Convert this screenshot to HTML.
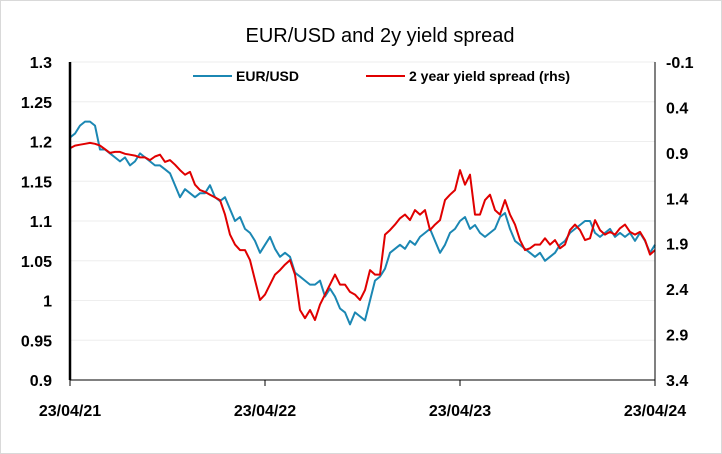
<!DOCTYPE html>
<html><head><meta charset="utf-8"><style>
body{margin:0;background:#fff}
svg{display:block;font-family:"Liberation Sans",sans-serif}
</style></head><body>
<svg id="chart" width="722" height="454" viewBox="0 0 722 454" xmlns="http://www.w3.org/2000/svg">
<rect x="0.5" y="0.5" width="721" height="453" fill="#fff" stroke="#d9d9d9"/>
<text x="380" y="42" text-anchor="middle" font-size="20" fill="#000">EUR/USD and 2y yield spread</text>
<g id="grid"></g>
<g id="series"></g>
<g id="axes"></g>
<g>
<line x1="193" y1="76" x2="232" y2="76" stroke="#1b87b3" stroke-width="2"/>
<text x="236" y="81" font-size="14" font-weight="bold">EUR/USD</text>
<line x1="366" y1="76" x2="405" y2="76" stroke="#e00000" stroke-width="2"/>
<text x="409" y="81" font-size="14" font-weight="bold">2 year yield spread (rhs)</text>
</g>
</svg>
<script>
const leftTicks=[1.3,1.25,1.2,1.15,1.1,1.05,1,0.95,0.9];
const rightTicks=[-0.1,0.4,0.9,1.4,1.9,2.4,2.9,3.4];
const xTickLabels=["23/04/21","23/04/22","23/04/23","23/04/24"];
const xTickYears=[0,1,2,3];
const eurusd=[1.205,1.21,1.22,1.225,1.225,1.22,1.19,1.19,1.185,1.18,1.175,1.18,1.17,1.175,1.185,1.18,1.175,1.17,1.17,1.165,1.16,1.145,1.13,1.14,1.135,1.13,1.135,1.135,1.145,1.13,1.125,1.13,1.115,1.1,1.105,1.09,1.085,1.075,1.06,1.07,1.08,1.065,1.055,1.06,1.055,1.035,1.03,1.025,1.02,1.02,1.025,1.005,1.015,1.005,0.99,0.985,0.97,0.985,0.98,0.975,1.0,1.025,1.03,1.04,1.06,1.065,1.07,1.065,1.075,1.07,1.08,1.085,1.09,1.075,1.06,1.07,1.085,1.09,1.1,1.105,1.09,1.095,1.085,1.08,1.085,1.09,1.105,1.11,1.09,1.075,1.07,1.065,1.06,1.055,1.06,1.05,1.055,1.06,1.07,1.075,1.085,1.09,1.095,1.1,1.1,1.085,1.08,1.085,1.09,1.08,1.085,1.08,1.085,1.075,1.085,1.075,1.06,1.07];
const spread=[0.85,0.82,0.81,0.80,0.79,0.80,0.82,0.86,0.90,0.89,0.89,0.91,0.92,0.93,0.95,0.95,0.98,0.94,0.92,1.00,0.98,1.03,1.09,1.14,1.11,1.25,1.31,1.33,1.36,1.39,1.42,1.58,1.80,1.91,1.97,1.97,2.08,2.30,2.52,2.46,2.35,2.24,2.19,2.13,2.08,2.24,2.63,2.72,2.63,2.74,2.57,2.46,2.35,2.24,2.35,2.35,2.43,2.46,2.52,2.41,2.19,2.24,2.24,1.80,1.75,1.69,1.62,1.58,1.64,1.53,1.58,1.53,1.75,1.69,1.64,1.42,1.36,1.31,1.09,1.25,1.14,1.58,1.58,1.42,1.36,1.53,1.58,1.42,1.58,1.69,1.86,1.97,1.95,1.91,1.91,1.84,1.91,1.86,1.95,1.91,1.75,1.69,1.75,1.86,1.84,1.64,1.75,1.80,1.77,1.80,1.73,1.69,1.77,1.80,1.77,1.86,2.02,1.97];
const X0=70,X1=655,Y0=62,Y1=380;
const xYear=t=>X0+(t/3)*(X1-X0);
const yL=v=>Y0+(1.3-v)/(1.3-0.9)*(Y1-Y0);
const yR=v=>Y0+(v-(-0.1))/(3.4-(-0.1))*(Y1-Y0);
const NS="http://www.w3.org/2000/svg";
function mk(tag,attrs,parent){const e=document.createElementNS(NS,tag);for(const k in attrs)e.setAttribute(k,attrs[k]);parent.appendChild(e);return e;}
const grid=document.getElementById('grid'),axes=document.getElementById('axes'),series=document.getElementById('series');
leftTicks.forEach((v,i)=>{
  const y=yL(v);
  if(i<leftTicks.length-1){const g=mk('line',{x1:X0,x2:X1,y1:y,y2:y,stroke:'#eeeeee','stroke-width':1},grid);
  
  }
  const t=mk('text',{x:52,y:y+6,'text-anchor':'end','font-size':16,'font-weight':'bold'},axes);t.textContent=String(v);
  
  
});
rightTicks.forEach(v=>{
  const y=yR(v);
  const t=mk('text',{x:666,y:y+6,'font-size':16,'font-weight':'bold'},axes);t.textContent=String(v);
  
  
});
xTickYears.forEach((yr,i)=>{
  const x=xYear(yr);
  const tk=mk('line',{x1:x,x2:x,y1:Y1,y2:Y1+6,stroke:'#000','stroke-width':1},axes);
  
  
  const t=mk('text',{x:x,y:416,'text-anchor':'middle','font-size':16,'font-weight':'bold'},axes);t.textContent=xTickLabels[i];
  
  
});
const la=mk('line',{x1:X0,x2:X0,y1:Y0,y2:Y1,stroke:'#000','stroke-width':2.5},axes);


const ra=mk('line',{x1:X1,x2:X1,y1:Y0,y2:Y1,stroke:'#000','stroke-width':1},axes);


const ba=mk('line',{x1:X0,x2:X1,y1:Y1,y2:Y1,stroke:'#000','stroke-width':1},axes);


function path(arr,yf){const n=arr.length;return arr.map((v,i)=>(i?'L':'M')+xYear(3*i/(n-1)).toFixed(1)+','+yf(v).toFixed(1)).join(' ');}
const pb=mk('path',{d:path(eurusd,yL),fill:'none',stroke:'#1b87b3','stroke-width':2,'stroke-linejoin':'round'},series);


const pr=mk('path',{d:path(spread,yR),fill:'none',stroke:'#e00000','stroke-width':2,'stroke-linejoin':'round'},series);


</script>
</body></html>
